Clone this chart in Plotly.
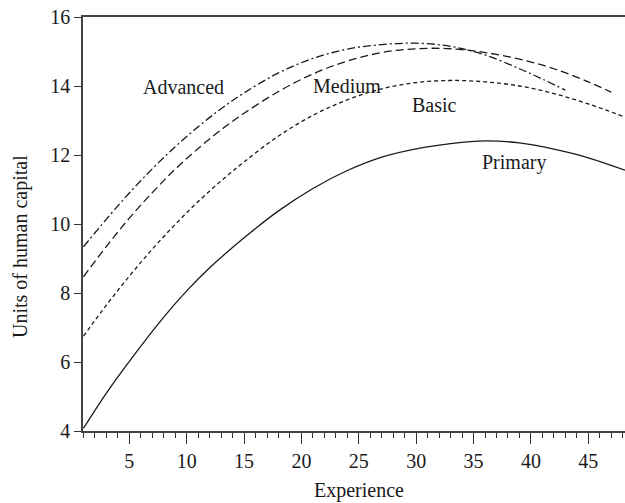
import plotly.graph_objects as go

# Experience (years) and units of human capital
primary_x = [1, 3, 5, 8, 10, 12, 15, 18, 21, 24, 27, 30, 33, 36, 39, 42, 45, 48.2]
primary_y = [4.08, 5.10, 6.02, 7.3, 8.06, 8.73, 9.6, 10.38, 11.03, 11.55, 11.94, 12.18, 12.33, 12.41, 12.35, 12.17, 11.92, 11.56]

basic_x = [1, 3, 5, 7, 9, 11, 13, 15, 18, 21, 24, 27, 30, 33, 36, 39, 42, 45, 48.2]
basic_y = [6.75, 7.65, 8.49, 9.27, 9.99, 10.65, 11.25, 11.8, 12.55, 13.15, 13.6, 13.92, 14.1, 14.16, 14.12, 14.0, 13.78, 13.48, 13.1]

medium_x = [1, 3, 5, 7, 9, 11, 13, 15, 18, 21, 24, 27, 30, 33, 36, 39, 42, 45, 47]
medium_y = [8.47, 9.35, 10.17, 10.91, 11.59, 12.19, 12.73, 13.21, 13.84, 14.35, 14.72, 14.97, 15.08, 15.08, 14.97, 14.78, 14.5, 14.12, 13.82]

advanced_x = [1, 3, 5, 7, 9, 11, 13, 15, 18, 21, 24, 27, 30, 33, 36, 39, 41, 43]
advanced_y = [9.34, 10.14, 10.9, 11.6, 12.24, 12.82, 13.34, 13.8, 14.38, 14.8, 15.07, 15.2, 15.24, 15.15, 14.9, 14.5, 14.2, 13.88]

labels = ["Advanced", "Medium", "Basic", "Primary"]
label_x = [9.7, 24.0, 31.6, 38.55]
label_y = [13.97, 14.01, 13.46, 11.77]

y_ticks = [4, 6, 8, 10, 12, 14, 16]
x_ticks = [5, 10, 15, 20, 25, 30, 35, 40, 45]

FONT = "Liberation Serif, Times New Roman, serif"
INK = "#1a1a1a"
FS = 20

fig = go.Figure()
series = [
    (primary_x, primary_y, "solid"),
    (basic_x, basic_y, "4px,3px"),
    (medium_x, medium_y, "8px,4px"),
    (advanced_x, advanced_y, "8px,3px,2px,3px"),
]
for xs, ys, dash in series:
    fig.add_trace(go.Scatter(
        x=xs, y=ys, mode="lines",
        line=dict(color=INK, width=1.3, dash=dash, shape="spline", smoothing=1.0),
        showlegend=False, hoverinfo="skip",
    ))

for t, lx, ly in zip(labels, label_x, label_y):
    fig.add_annotation(x=lx, y=ly, text=t, showarrow=False,
                       font=dict(family=FONT, size=FS, color=INK),
                       xanchor="center", yanchor="middle")

fig.add_annotation(xref="paper", yref="paper", x=(359 - 83) / 542, y=-(490 - 431) / 414,
                   text="Experience", showarrow=False,
                   font=dict(family=FONT, size=FS, color=INK),
                   xanchor="center", yanchor="middle")
fig.add_annotation(xref="paper", yref="paper", x=-(83 - 20) / 542, y=(431 - 247) / 414,
                   text="Units of human capital", showarrow=False, textangle=-90,
                   font=dict(family=FONT, size=FS, color=INK),
                   xanchor="center", yanchor="middle")

fig.update_layout(
    width=625, height=503,
    margin=dict(l=83, r=0, t=17, b=72),
    paper_bgcolor="white", plot_bgcolor="white",
    font=dict(family=FONT, size=FS, color=INK),
    xaxis=dict(
        range=[0.96, 48.2], tickmode="array", tickvals=x_ticks,
        ticks="outside", ticklen=11, tickwidth=1.2, tickcolor="#333",
        minor=dict(ticks="outside", ticklen=5, tickwidth=1.2, tickcolor="#333", dtick=1, tick0=0),
        showline=True, linecolor="#444", linewidth=1.5, mirror=True,
        showgrid=False, zeroline=False,
        tickfont=dict(family=FONT, size=FS, color=INK),
    ),
    yaxis=dict(
        range=[4, 16], tickmode="array", tickvals=y_ticks,
        ticks="outside", ticklen=7, tickwidth=1.2, tickcolor="#333",
        showline=True, linecolor="#444", linewidth=1.5, mirror=False,
        showgrid=False, zeroline=False,
        tickfont=dict(family=FONT, size=FS, color=INK),
    ),
)

fig.write_html(
    "out.html",
    config={"displayModeBar": False},
    post_script="document.body.style.margin='0px';document.body.style.overflow='hidden';",
)
